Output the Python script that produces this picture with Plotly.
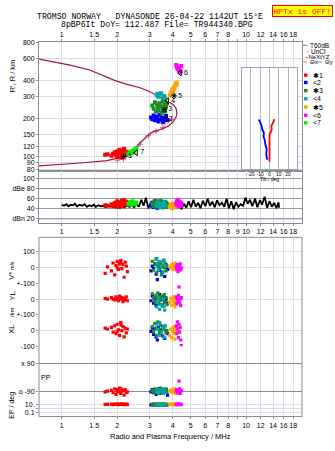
import math
import plotly.graph_objects as go

W, H = 335, 451
def px_x(p): return p / W
def px_y(p): return 1 - p / H

# ---------------- data ----------------
freq_ticks = [1, 1.5, 2, 3, 4, 5, 6, 7, 8, 9, 10, 12, 14, 16, 18]
freq_text_top = ['1', '1.5', '2', '3', '4', '5', '6', '7', '8', '', '10', '12', '14', '16', '18']
freq_text_mid = ['1', '1.5', '2', '3', '4', '5', '6', '7', '8', '9', '10', '12', '14', '16', '18']
height_ticks = [80, 90, 100, 120, 150, 200, 300, 400, 600, 800]

profile_f = [0.753, 1.11, 1.42, 1.95, 2.26, 2.66, 3.01, 3.29, 3.55, 3.78, 4.02, 4.17, 4.22,
             4.17, 4.02, 3.78, 3.50, 3.09, 2.90, 2.66, 2.50, 2.38, 2.12, 1.76, 1.26, 0.753]
profile_h = [590, 530, 485, 400, 373, 351, 327, 305, 289, 274, 259, 241, 221,
             206, 188, 175, 166, 157, 146, 129, 117, 106, 99.7, 93.6, 89.6, 85]

nexyz_f = [2.0, 2.16, 2.38, 2.66, 2.95, 3.25, 3.54, 3.94]
nexyz_h = [94.4, 96.5, 104, 126, 147, 160, 170, 198]

red_f = [1.72, 1.77, 1.86, 1.90, 1.94, 1.97, 2.00, 2.03, 2.06, 2.09, 2.12, 2.15, 2.18, 2.21, 2.24, 2.27, 2.00, 2.10]
red_h = [104, 105, 102, 106, 109, 103, 111, 106, 114, 108, 103, 112, 116, 109, 104, 110, 100, 99]
red_db = [47, 46, 49, 45, 52, 48, 55, 47, 53, 50, 56, 49, 57, 51, 54, 48, 44, 45]
red_v = [-35, 5, -20, 30, -45, 15, 40, -10, 25, 45, -5, 20, -60, 35, 10, -25, 0, 30]
red_yl = [5, 0, 10, 0, -5, 15, 5, -10, 20, 0, 10, -15, 5, -5, 15, -10, 0, 5]
red_xl = [15, 10, 20, -10, 30, -20, 40, 5, -30, 50, 0, 25, -40, 15, -15, 10, -5, 35]
red_pp = [-95, -90, -85, -100, -75, -110, -80, -95, -70, -105, -90, -85, -115, -80, -100, -95, -90, -75]
red_ep = [10, 10, 11, 9, 12, 10, 11, 9, 10, 12, 11, 10, 9, 11, 10, 9, 10, 11]

blue_f = [3.05, 3.10, 3.15, 3.20, 3.25, 3.30, 3.35, 3.40, 3.45, 3.50, 3.55, 3.62, 3.68, 3.75]
blue_h = [205, 198, 212, 195, 208, 200, 190, 215, 197, 205, 188, 200, 210, 196]
blue_db = [46, 52, 44, 55, 48, 42, 50, 46, 53, 44, 49, 45, 51, 47]
blue_v = [-20, 10, -5, 25, -40, -75, 15, -15, 30, -30, 5, -55, 20, -10]
blue_yl = [-10, 20, -25, 5, -40, 10, -20, 30, -5, -35, 15, -15, 0, -25]
blue_xl = [-5, 15, -25, 10, -40, -60, 20, -15, 5, -30, 25, -50, 0, -20]
blue_pp = [-95, -80, -100, -85, -110, -90, -75, -105, -90, -85, -100, -95, -80, -115]
blue_ep = [8, 9, 7, 10, 8, 9, 7, 8, 10, 9, 8, 7, 9, 8]

green_f = [3.10, 3.15, 3.20, 3.24, 3.28, 3.32, 3.36, 3.40, 3.44, 3.48, 3.52, 3.56, 3.60, 3.64, 3.68, 3.72]
green_h = [255, 240, 270, 228, 260, 245, 232, 265, 250, 222, 275, 238, 258, 228, 248, 265]
green_db = [50, 45, 53, 47, 55, 44, 51, 48, 56, 46, 52, 43, 49, 54, 45, 50]
green_v = [40, -15, 20, 55, -30, 10, 35, -5, 25, -45, 15, 45, 0, 30, -20, 10]
green_yl = [35, 10, -15, 25, 0, 40, -30, 15, -10, 20, -45, 5, 30, -20, 10, -35]
green_xl = [25, -10, 45, 15, -30, 55, 5, -20, 35, -5, 20, -40, 10, 30, -15, 0]
green_pp = [-85, -95, -75, -100, -90, -80, -105, -90, -70, -95, -85, -100, -80, -90, -75, -95]
green_ep = [11, 10, 12, 9, 11, 10, 12, 11, 10, 9, 11, 12, 10, 11, 9, 10]

teal_f = [3.28, 3.31, 3.34, 3.40, 3.46, 3.55, 3.59, 3.62]
teal_h = [305, 315, 298, 312, 318, 290, 303, 296]
teal_db = [47, 52, 45, 50, 43, 48, 53, 46]
teal_v = [60, 25, -10, 40, 10, -25, 50, 15]
teal_yl = [-50, -20, 10, -65, -35, 0, -45, -70]
teal_xl = [40, 10, -30, 50, -15, 20, -45, 30]
teal_pp = [-80, -95, -100, -85, -90, -105, -75, -95]
teal_ep = [9, 10, 8, 9, 10, 9, 8, 10]

orange_f = [3.85, 3.90, 3.95, 3.98, 4.02, 4.05, 4.08, 4.11, 4.14, 4.17, 4.20, 4.22]
orange_h = [305, 318, 325, 340, 330, 350, 345, 362, 370, 378, 385, 372]
orange_db = [44, 48, 42, 50, 45, 47, 43, 49, 46, 44, 48, 45]
orange_v = [10, -5, 20, 5, 25, -10, 15, 0, 30, 10, -15, 20]
orange_yl = [-20, 5, -40, -10, 15, -30, 0, -50, -15, 10, -25, -5]
orange_xl = [-30, 10, -45, -5, 20, -20, 5, -55, 25, -10, 0, 15]
orange_pp = [-90, -85, -95, -80, -100, -90, -75, -95, -85, -105, -90, -80]
orange_ep = [10, 11, 10, 9, 10, 11, 10, 9, 11, 10, 10, 9]

mag_f = [4.18, 4.21, 4.24, 4.27, 4.30, 4.33, 4.36, 4.39, 4.42, 4.45]
mag_h = [530, 515, 505, 498, 490, 485, 480, 475, 470, 520]
mag_db = [50, 55, 47, 57, 52, 46, 54, 49, 45, 51]
mag_v = [10, -5, 20, -25, 5, 15, -15, 25, -10, 0]
mag_yl = [15, -30, 5, -10, 25, 78, -20, 0, -40, 10]
mag_xl = [30, -20, 55, 10, -45, 40, -10, 20, -60, -95]
mag_pp = [-90, -80, -100, -85, -95, -25, -75, -105, -90, -85]
mag_ep = [10, 9, 11, 10, 9, 10, 11, 10, 9, 10]

lime_f = [2.30, 2.34, 2.38, 2.42, 2.46, 2.50, 2.54]
lime_h = [106, 109, 107, 112, 110, 115, 117]
lime_db = [50, 53, 48, 55, 51, 49, 52]

label_f = [2.17, 3.63, 3.59, 3.73, 4.07, 4.38, 2.53]
label_h = [101, 198, 236, 277, 303, 459, 108]
label_txt = ['1', '2', '3', '4', '5', '6', '7']

noise_f = [1.00, 1.03, 1.06, 1.09, 1.12, 1.15, 1.18, 1.21, 1.25, 1.29, 1.33, 1.37, 1.41, 1.45, 1.49, 1.53,
           1.58, 1.63, 1.68, 1.73, 1.78, 1.83, 1.89, 1.95, 2.01, 2.07, 2.13, 2.19, 2.26, 2.33, 2.40, 2.47,
           2.54, 2.62, 2.70, 2.78, 2.86, 2.95, 3.04, 3.13, 3.22, 3.32, 3.42, 3.52, 3.63, 3.74, 3.85, 3.97,
           4.09, 4.21, 4.34, 4.47, 4.60, 4.74, 4.88, 5.03, 5.18, 5.34, 5.50, 5.66, 5.83, 6.01, 6.19, 6.37,
           6.56, 6.76, 6.96, 7.17, 7.39, 7.61, 7.84, 8.07, 8.31, 8.56, 8.82, 9.08, 9.35, 9.63, 9.92, 10.2,
           10.5, 10.8, 11.2, 11.5, 11.9, 12.2, 12.6, 13.0, 13.4, 13.8, 14.2, 14.6, 15.0, 15.1]
noise_db = [48, 46, 49, 45, 48, 47, 50, 45, 48, 46, 49, 44, 47, 45, 48, 44,
            47, 45, 46, 43, 47, 44, 46, 43, 45, 42, 46, 43, 47, 44, 48, 43,
            50, 44, 58, 46, 62, 41, 52, 40, 50, 42, 48, 41, 47, 42, 46, 40,
            45, 41, 44, 40, 50, 42, 55, 43, 58, 44, 52, 41, 56, 45, 60, 46,
            54, 43, 57, 47, 52, 44, 60, 41, 55, 39, 53, 44, 49, 46, 62, 50,
            58, 45, 60, 43, 57, 48, 64, 42, 55, 44, 52, 41, 53, 42]

tiltx_deg = [0, 0, 0, 0, 1.5, 2.5, 2, 3.5, 4.5, 5.5]
tiltx_h = [92, 110, 130, 149, 158, 166, 175, 184, 192, 198]
tilty_deg = [-2.5, -3.5, -3, -4.5, -5, -6.5, -6, -8, -8.5, -9.5, -10.5, -12]
tilty_h = [95, 105, 115, 125, 135, 145, 155, 165, 175, 185, 192, 197]

# ---------------- styling ----------------
FONT = 'Liberation Sans, Arial, sans-serif'
MONO = 'Liberation Mono, DejaVu Sans Mono, monospace'
tf = dict(family=FONT, size=7, color='#000')
grid = '#dcdce8'
frame = '#8c8c8c'
xdom = [39 / W, 302 / W]
xr = [math.log10(0.753), math.log10(20.1)]

groups = [
    dict(c='#ff0000', f=red_f, h=red_h, db=red_db, v=red_v, yl=red_yl, xl=red_xl, pp=red_pp, ep=red_ep),
    dict(c='#00ee00', f=lime_f, h=lime_h, db=lime_db, v=None),
    dict(c='#0000ff', f=blue_f, h=blue_h, db=blue_db, v=blue_v, yl=blue_yl, xl=blue_xl, pp=blue_pp, ep=blue_ep),
    dict(c='#1e8c1e', f=green_f, h=green_h, db=green_db, v=green_v, yl=green_yl, xl=green_xl, pp=green_pp, ep=green_ep),
    dict(c='#00a8a8', f=teal_f, h=teal_h, db=teal_db, v=teal_v, yl=teal_yl, xl=teal_xl, pp=teal_pp, ep=teal_ep),
    dict(c='#ffa500', f=orange_f, h=orange_h, db=orange_db, v=orange_v, yl=orange_yl, xl=orange_xl, pp=orange_pp, ep=orange_ep),
    dict(c='#ff00ff', f=mag_f, h=mag_h, db=mag_db, v=mag_v, yl=mag_yl, xl=mag_xl, pp=mag_pp, ep=mag_ep),
]

fig = go.Figure()

# top panel
fig.add_trace(go.Scatter(x=nexyz_f, y=nexyz_h, mode='lines+markers', line=dict(color='#e0508a', width=0.6),
                         marker=dict(symbol='cross-thin-open', size=4, line=dict(color='#e0508a', width=1)),
                         xaxis='x', yaxis='y'))
fig.add_trace(go.Scatter(x=profile_f, y=profile_h, mode='lines', line=dict(color='#a8133c', width=1.2),
                         xaxis='x', yaxis='y'))
# dBe noise
fig.add_trace(go.Scatter(x=noise_f, y=noise_db, mode='lines', line=dict(color='#000', width=1.8),
                         xaxis='x2', yaxis='y2'))

for g in groups:
    mk = dict(symbol='square', size=4, color=g['c'], line=dict(width=0))
    fig.add_trace(go.Scatter(x=g['f'], y=g['h'], mode='markers', marker=mk, xaxis='x', yaxis='y'))
    fig.add_trace(go.Scatter(x=g['f'], y=g['db'], mode='markers', marker=mk, xaxis='x2', yaxis='y2'))
    if g['v'] is not None:
        mk2 = dict(symbol='square', size=3.2, color=g['c'], line=dict(width=0))
        for key, ya in [('v', 'y3'), ('yl', 'y4'), ('xl', 'y5'), ('pp', 'y6'), ('ep', 'y7')]:
            fig.add_trace(go.Scatter(x=g['f'], y=g[key], mode='markers', marker=mk2, xaxis='x3', yaxis=ya))

label_sym = ['asterisk-open', 'triangle-left-open', 'asterisk-open', 'triangle-left-open',
             'asterisk-open', 'triangle-left-open', 'triangle-left-open']
fig.add_trace(go.Scatter(x=label_f, y=label_h, mode='markers+text', text=label_txt,
                         textposition='middle right', textfont=dict(family=FONT, size=7, color='#000'),
                         marker=dict(symbol=label_sym, size=5, color='#000', line=dict(color='#000', width=1)),
                         xaxis='x', yaxis='y'))

# inset tilt
fig.add_trace(go.Scatter(x=tiltx_deg, y=tiltx_h, mode='lines', line=dict(color='#ff0000', width=1.8),
                         xaxis='x4', yaxis='y8'))
fig.add_trace(go.Scatter(x=tilty_deg, y=tilty_h, mode='lines', line=dict(color='#0000ff', width=1.8),
                         xaxis='x4', yaxis='y8'))

common_x = dict(type='log', range=xr, domain=xdom, tickvals=freq_ticks, showgrid=True, gridcolor=grid,
                zeroline=False, tickfont=tf, ticks='outside', ticklen=2, tickcolor=frame, tickangle=0)

def band(dom, rng, tv, tt, gc, typ='linear'):
    return dict(type=typ, domain=[px_y(dom[1]), px_y(dom[0])], range=rng, anchor='x3', tickvals=tv,
                ticktext=tt, showgrid=True, gridcolor=gc, zeroline=False, tickfont=tf,
                ticks='outside', ticklen=2, tickcolor=frame, showline=False)

fig.update_layout(
    width=W, height=H, autosize=False, margin=dict(l=0, r=0, t=0, b=0),
    paper_bgcolor='white', plot_bgcolor='white', showlegend=False,
    font=dict(family=FONT, size=7, color='#000'),
    xaxis=dict(common_x, anchor='y', side='top', ticktext=freq_text_top,
               showline=True, linecolor=frame, mirror=True),
    yaxis=dict(type='log', range=[math.log10(77.0), math.log10(800)], domain=[px_y(170), px_y(39)],
               anchor='x', tickvals=height_ticks, ticktext=[str(v) for v in height_ticks], showgrid=True,
               gridcolor=grid, zeroline=False, showline=True, linecolor=frame, mirror=True,
               ticks='outside', ticklen=2, tickcolor=frame, tickfont=tf),
    xaxis2=dict(common_x, anchor='y2', side='bottom', ticktext=freq_text_mid,
                showline=True, linecolor=frame, mirror=True),
    yaxis2=dict(range=[12.8, 114], domain=[px_y(222), px_y(170)], anchor='x2',
                tickvals=[20, 40, 60, 80, 100], ticktext=['dBn 20', '40', '60', 'dBe 80', '100'],
                showgrid=True, gridcolor='#9a9a9a', zeroline=False, showline=True, linecolor=frame,
                mirror=True, ticks='outside', ticklen=2, tickcolor=frame, tickfont=tf),
    xaxis3=dict(common_x, anchor='y7', side='bottom', ticktext=freq_text_top, showline=False),
    yaxis3=band((237, 284), [-100, 192], [-100, 0, 100], ['+-100', '0', '100'], '#e2dae8'),
    yaxis4=band((284, 315.7), [-100, 100], [-100, 0], ['+-100', '0'], '#e2dae8'),
    yaxis5=band((315.7, 347.7), [-100, 100], [-100, 0], ['-100', '0'], '#e2dae8'),
    yaxis6=band((347.7, 400), [-132.6, 200], [-90, 90], ['o -90', 'x 90'], '#8c8c8c'),
    yaxis7=band((400, 419), [-1.96, 2.61], [0.1, 1, 10], ['0.1', ' ', '10.'], '#dcdce8', typ='log'),
    xaxis4=dict(range=[-30, 30], domain=[241.7 / W, 297.3 / W], anchor='y8', tickvals=[-20, -10, 0, 10, 20],
                ticktext=['-20', '-10', '0', '10', '20'], showgrid=True, gridcolor='#b4b4c4',
                zeroline=False, showline=True, linecolor='#a0a0b4', mirror=True, ticks='', tickangle=0,
                tickfont=dict(family=FONT, size=5, color='#000')),
    yaxis8=dict(type='log', range=[math.log10(79.7), math.log10(502)], domain=[px_y(168), px_y(65)],
                anchor='x4', showticklabels=False, showgrid=False, zeroline=False, showline=True,
                linecolor='#a0a0b4', mirror=True, ticks=''),
)

shapes = [
    dict(type='rect', xref='x4 domain', yref='y8 domain', x0=0, x1=1, y0=0, y1=1,
         fillcolor='white', line=dict(width=0), layer='below'),
    dict(type='rect', xref='paper', yref='paper', x0=xdom[0], x1=xdom[1], y0=px_y(419), y1=px_y(237),
         line=dict(color=frame, width=1), layer='above'),
    dict(type='line', xref='x2 domain', yref='y2', x0=0, x1=1, y0=20, y1=20,
         line=dict(color='#9a9ae6', width=1), layer='above'),
    dict(type='line', xref='paper', yref='paper', x0=px_x(303), x1=px_x(307.5), y0=px_y(42), y1=px_y(42),
         line=dict(color='#a0a0a0', width=1.5)),
    dict(type='line', xref='paper', yref='paper', x0=px_x(302), x1=px_x(307), y0=px_y(59), y1=px_y(59),
         line=dict(color='#e07088', width=1)),
    dict(type='line', xref='paper', yref='paper', x0=px_x(317), x1=px_x(322), y0=px_y(59), y1=px_y(59),
         line=dict(color='#8080e0', width=1)),
]
legend_colors = ['#ff0000', '#0000ff', '#1e8c1e', '#00a8a8', '#ffa500', '#ff00ff', '#00ee00']
legend_txt = ['✱1', '&lt;2', '✱3', '&lt;4', '✱5', '&lt;6', '&lt;7']
legend_y = [72.3, 79.7, 88, 96.3, 104.7, 113, 120.7]
for c, yy in zip(legend_colors, legend_y):
    shapes.append(dict(type='rect', xref='paper', yref='paper', x0=px_x(304), x1=px_x(307.5),
                       y0=px_y(yy + 1.7), y1=px_y(yy - 1.7), fillcolor=c, line=dict(width=0)))
fig.update_layout(shapes=shapes)

NB = '\u00a0'
ann = []
def A(text, x, y, size=7, family=FONT, xanchor='center', angle=0, color='#000', **kw):
    ann.append(dict(text=text, x=px_x(x), y=px_y(y), xref='paper', yref='paper', showarrow=False,
                    xanchor=xanchor, yanchor='middle', textangle=angle,
                    font=dict(family=family, size=size, color=color), **kw))

A('TROMSO' + NB + 'NORWAY' + NB * 3 + 'DYNASONDE' + NB + '26-04-22' + NB + '1142UT' + NB + '15°E',
  150, 12.3, size=8.2, family=MONO)
A('8pBP6It' + NB + 'DoY=' + NB + '112.487' + NB + 'File=' + NB + 'TR944340.BPG', 157, 20.5, size=8.2, family=MONO)
ann.append(dict(text='HPTx' + NB + 'is' + NB + 'OFF!', x=px_x(333), y=px_y(1.5), xref='paper', yref='paper',
                showarrow=False, xanchor='right', yanchor='top', bgcolor='#ffff00', bordercolor='#ff0000',
                borderwidth=1, borderpad=0.5, font=dict(family=MONO, size=8, color='#ff0000')))
A("R', R / km", 12.5, 73, size=7.5, angle=-90)
A('V* <span style="font-size:5px">m/s</span>', 12, 271, size=7.5, angle=-90)
A('YL', 12, 297, size=7.5, angle=-90)
A('/km', 12, 313, size=6, angle=-90)
A('XL', 12, 331, size=7.5, angle=-90)
A('EP / deg', 12, 408, size=7, angle=-90)
A('PP', 46, 379, size=7)
A('Radio and Plasma Frequency / MHz', 170, 439, size=7.5)
A('Tilt / deg', 269.5, 178, size=5)
A('T60dB', 308, 42, size=6.5, xanchor='left')
A('·' + NB + 'UnCl', 304.5, 48.5, size=6.5, xanchor='left')
A('<span style="color:#e0508a">+</span>NeXtYZ', 303, 53.8, size=6, xanchor='left')
A('Θx', 307.5, 59.3, size=6, xanchor='left')
A('Θy', 322.5, 59.3, size=6, xanchor='left')
for t, yy in zip(legend_txt, legend_y):
    A(t, 311, yy, size=7, xanchor='left')
fig.update_layout(annotations=ann)

fig.write_html('out.html')
